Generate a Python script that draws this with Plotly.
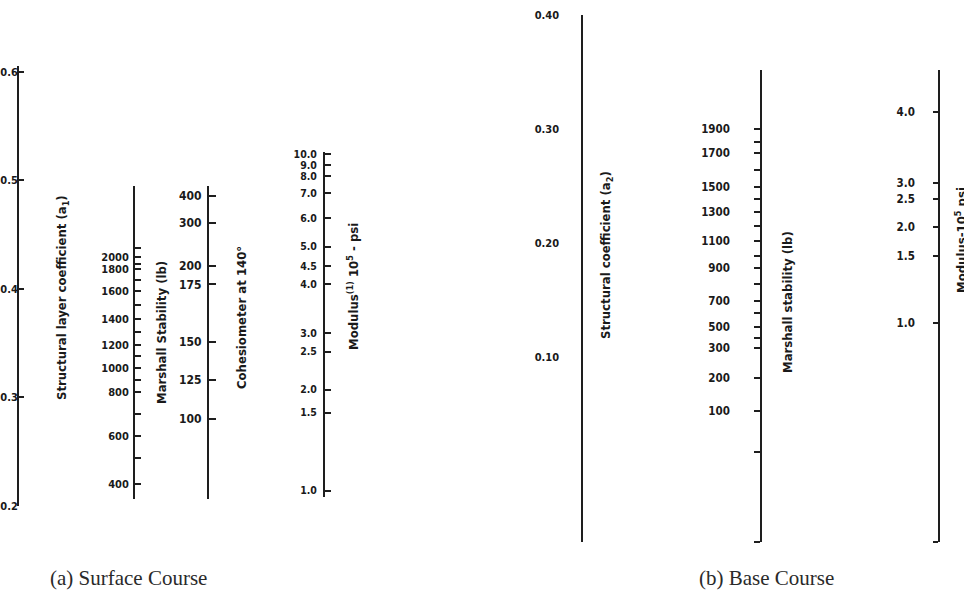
import plotly.graph_objects as go

W, H = 964, 613

# ---------------- DATA ----------------
# (a) Surface course. Common vertical scale = structural layer coefficient a1.
a1_values = [0.2, 0.3, 0.4, 0.5, 0.6]
a1_labels = ["0.2", "0.3", "0.4", "0.5", "0.6"]
a1_span = [0.2, 0.605]

surf_marshall_labels = ["2000", "1800", "1600", "1400", "1200", "1000", "800", "600", "400"]
surf_marshall_a1eq = [0.429, 0.418, 0.398, 0.372, 0.348, 0.327, 0.305, 0.264, 0.220]
surf_marshall_minor_a1eq = [0.438, 0.423, 0.408, 0.385, 0.360, 0.338, 0.316, 0.285, 0.244]
surf_marshall_span = [0.206, 0.495]

cohesiometer_labels = ["400", "300", "200", "175", "150", "125", "100"]
cohesiometer_a1eq = [0.486, 0.461, 0.421, 0.404, 0.351, 0.316, 0.280]
cohesiometer_span = [0.206, 0.495]

surf_modulus_labels = ["10.0", "9.0", "8.0", "7.0", "6.0", "5.0", "4.5", "4.0",
                       "3.0", "2.5", "2.0", "1.5", "1.0"]
surf_modulus_a1eq = [0.524, 0.514, 0.504, 0.488, 0.465, 0.439, 0.421, 0.404,
                     0.359, 0.342, 0.307, 0.286, 0.214]
surf_modulus_span = [0.208, 0.526]

# (b) Base course. Common vertical scale = structural coefficient a2.
a2_values = [0.10, 0.20, 0.30, 0.40]
a2_labels = ["0.10", "0.20", "0.30", "0.40"]
a2_span = [-0.062, 0.40]

base_marshall_labels = ["1900", "1700", "1500", "1300", "1100", "900", "700",
                        "500", "300", "200", "100"]
base_marshall_a2eq = [0.300, 0.279, 0.249, 0.227, 0.202, 0.178, 0.149,
                      0.126, 0.108, 0.082, 0.053]
base_marshall_minor_a2eq = [0.289, 0.264, 0.239, 0.215, 0.189, 0.164, 0.139, 0.117, 0.017]
base_marshall_span = [-0.062, 0.352]

base_modulus_labels = ["4.0", "3.0", "2.5", "2.0", "1.5", "1.0"]
base_modulus_a2eq = [0.315, 0.253, 0.239, 0.214, 0.189, 0.130]
base_modulus_span = [-0.062, 0.352]

panel_titles = ["(a) Surface Course", "(b) Base Course"]

# ---------------- LAYOUT CONSTANTS ----------------
SURF_FRAME = (0.1012, 0.6662)   # a1 values at bottom / top of the page
BASE_FRAME = (-0.1246, 0.4132)  # a2 values at bottom / top of the page

INK = "#1e1e1e"


def tfont(size):
    return dict(family="DejaVu Sans Condensed", size=size, color="#1a1a1a", weight="bold")


scales = [
    dict(frame=SURF_FRAME, span=a1_span, vals=a1_values, text=a1_labels, x=19,
         ticks="inside", ticklen=5, standoff=-3, lw=2, fs=11,
         title="Structural layer coefficient (a<sub>1</sub>)", tx=62, ty=297),
    dict(frame=SURF_FRAME, span=surf_marshall_span,
         vals=surf_marshall_a1eq + surf_marshall_minor_a1eq,
         text=surf_marshall_labels + [""] * len(surf_marshall_minor_a1eq), x=135,
         ticks="inside", ticklen=6, standoff=2, lw=2, fs=11,
         title="Marshall Stability (lb)", tx=161, ty=333),
    dict(frame=SURF_FRAME, span=cohesiometer_span,
         vals=cohesiometer_a1eq + [cohesiometer_span[0]],
         text=cohesiometer_labels + [""], x=209,
         ticks="inside", ticklen=7, standoff=3, lw=2, fs=12,
         title="Cohesiometer at 140°", tx=241, ty=318),
    dict(frame=SURF_FRAME, span=surf_modulus_span, vals=surf_modulus_a1eq,
         text=surf_modulus_labels, x=325,
         ticks="inside", ticklen=6, standoff=4, lw=2, fs=10.5,
         title="Modulus<sup>(1)</sup> 10<sup>5</sup> - psi", tx=353, ty=287),
    dict(frame=BASE_FRAME, span=a2_span, vals=a2_values + [a2_span[0]],
         text=a2_labels + [""], x=583,
         ticks="", ticklen=0, standoff=20, lw=1.5, fs=11,
         title="Structural coefficient (a<sub>2</sub>)", tx=606, ty=255),
    dict(frame=BASE_FRAME, span=base_marshall_span,
         vals=base_marshall_a2eq + base_marshall_minor_a2eq + [base_marshall_span[0]],
         text=base_marshall_labels + [""] * (len(base_marshall_minor_a2eq) + 1), x=762,
         ticks="outside", ticklen=6, standoff=22, lw=1.5, fs=11.5,
         title="Marshall stability (lb)", tx=787, ty=302),
    dict(frame=BASE_FRAME, span=base_modulus_span,
         vals=base_modulus_a2eq + [base_modulus_span[0]],
         text=base_modulus_labels + [""], x=940,
         ticks="outside", ticklen=5, standoff=16, lw=1.5, fs=11.5,
         title="Modulus-10<sup>5</sup> psi", tx=961, ty=240),
]

fig = go.Figure()
layout_axes = {}
annotations = []

for i, s in enumerate(scales):
    n = "" if i == 0 else str(i + 1)
    f0, f1 = s["frame"]
    lo, hi = s["span"]
    d0 = (lo - f0) / (f1 - f0)
    d1 = (hi - f0) / (f1 - f0)
    x0 = s["x"] / W
    fig.add_trace(go.Scatter(x=[0.5], y=[(lo + hi) / 2], xaxis=f"x{n}", yaxis=f"y{n}",
                             mode="markers", marker=dict(opacity=0),
                             hoverinfo="skip", showlegend=False))
    layout_axes[f"xaxis{n}"] = dict(
        domain=[x0, min(x0 + 0.004, 1.0)], range=[0, 1], anchor=f"y{n}",
        visible=False, fixedrange=True, automargin=False,
    )
    layout_axes[f"yaxis{n}"] = dict(
        domain=[d0, d1], range=[lo, hi], anchor=f"x{n}",
        side="left", showline=True, linecolor=INK, linewidth=s["lw"],
        ticks=s["ticks"], ticklen=s["ticklen"], tickwidth=1.5, tickcolor=INK,
        tickmode="array", tickvals=s["vals"], ticktext=s["text"],
        tickfont=tfont(s["fs"]), ticklabelstandoff=s["standoff"],
        showgrid=False, zeroline=False,
        automargin=False, fixedrange=True,
    )
    annotations.append(dict(
        x=s["tx"] / W, y=1 - s["ty"] / H, xref="paper", yref="paper",
        text=s["title"], textangle=-90, showarrow=False,
        xanchor="center", yanchor="middle",
        font=dict(family="DejaVu Sans Condensed", size=13, color="#1a1a1a", weight="bold"),
    ))

for t, cx in zip(panel_titles, [128, 766]):
    annotations.append(dict(
        x=cx / W, y=1 - 578 / H, xref="paper", yref="paper", text=t,
        showarrow=False, xanchor="center", yanchor="middle",
        font=dict(family="Liberation Serif", size=21, color="#2a2a2a"),
    ))

fig.update_layout(
    template="none",
    width=W, height=H,
    margin=dict(l=0, r=0, t=0, b=0, pad=0),
    paper_bgcolor="white", plot_bgcolor="white",
    showlegend=False,
    annotations=annotations,
    **layout_axes,
)

fig.write_html("out.html")
